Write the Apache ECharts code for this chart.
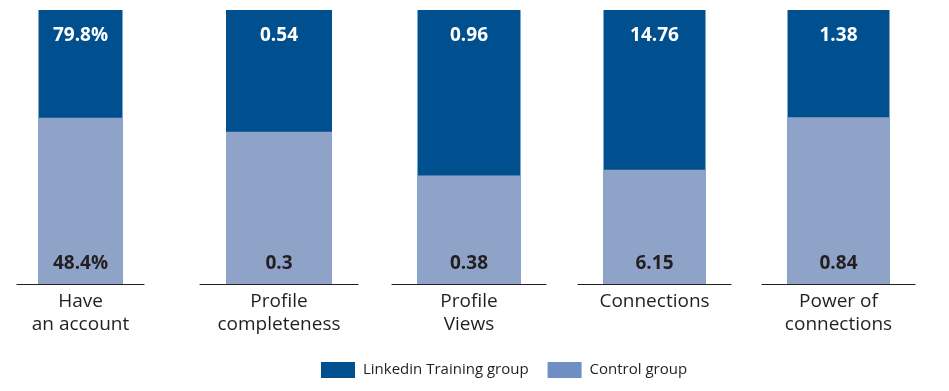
<!DOCTYPE html>
<html>
<head>
<meta charset="utf-8">
<script src="https://cdn.jsdelivr.net/npm/echarts@6/dist/echarts.min.js"></script>
<style>html,body{margin:0;padding:0;background:#fff}#c{width:949px;height:391px}</style>
</head>
<body>
<div id="c"></div>
<script>
const categories = ['Have\nan account', 'Profile\ncompleteness', 'Profile\nViews', 'Connections', 'Power of\nconnections'];
const trainingValues = [79.8, 0.54, 0.96, 14.76, 1.38];
const controlValues = [48.4, 0.3, 0.38, 6.15, 0.84];
const valueSuffix = ['%', '', '', '', ''];
const seriesNames = ['Linkedin Training group', 'Control group'];

// layout (pixels) per panel: baseline line extent and bar width
const panelLeft = [17, 200, 392, 578, 762];
const panelWidth = [127, 158, 154, 153, 153];
const barWidths = [84, 106, 103, 102, 102];

const DARK = '#00508f', LIGHT = '#8fa3c9', LEGEND_LIGHT = '#6f8fc4';
const FONT = 'Open Sans';

const grid = [], xAxis = [], yAxis = [], series = [];
categories.forEach((cat, i) => {
  grid.push({left: panelLeft[i], width: panelWidth[i], top: 10, bottom: 107});
  xAxis.push({
    type: 'category', gridIndex: i, data: [cat],
    axisLine: {lineStyle: {color: '#231f20', width: 1.2}},
    axisTick: {show: false},
    axisLabel: {color: '#231f20', fontSize: 19, fontFamily: FONT, lineHeight: 23, margin: 6, interval: 0}
  });
  yAxis.push({type: 'value', gridIndex: i, min: 0, max: 100, show: false, splitLine: {show: false}});
  const t = trainingValues[i], c = controlValues[i];
  series.push({
    name: seriesNames[0], type: 'bar', xAxisIndex: i, yAxisIndex: i,
    barWidth: barWidths[i], barGap: '-100%',
    itemStyle: {color: DARK},
    data: [100],
    label: {show: true, position: 'insideTop', distance: 16, color: '#fff', fontWeight: 'bold',
      fontSize: 19, fontFamily: FONT, formatter: () => t + valueSuffix[i]},
    z: 1
  });
  series.push({
    name: seriesNames[1], type: 'bar', xAxisIndex: i, yAxisIndex: i,
    barWidth: barWidths[i], barGap: '-100%',
    itemStyle: {color: LIGHT},
    data: [c / t * 100],
    label: {show: true, position: 'insideBottom', distance: 11, color: '#231f20', fontWeight: 'bold',
      fontSize: 19, fontFamily: FONT, formatter: () => c + valueSuffix[i]},
    z: 2
  });
});

const chart = echarts.init(document.getElementById('c'), null, {renderer: 'canvas'});
chart.setOption({
  animation: false,
  grid, xAxis, yAxis, series,
  legend: {
    left: 321, top: 362, itemWidth: 34, itemHeight: 16, itemGap: 19, icon: 'rect',
    padding: 0,
    selectedMode: false,
    textStyle: {color: '#231f20', fontSize: 15, fontFamily: FONT, padding: [0, 0, 0, 3]},
    data: [
      {name: seriesNames[0], itemStyle: {color: DARK}},
      {name: seriesNames[1], itemStyle: {color: LEGEND_LIGHT}}
    ]
  }
});
</script>
</body>
</html>
